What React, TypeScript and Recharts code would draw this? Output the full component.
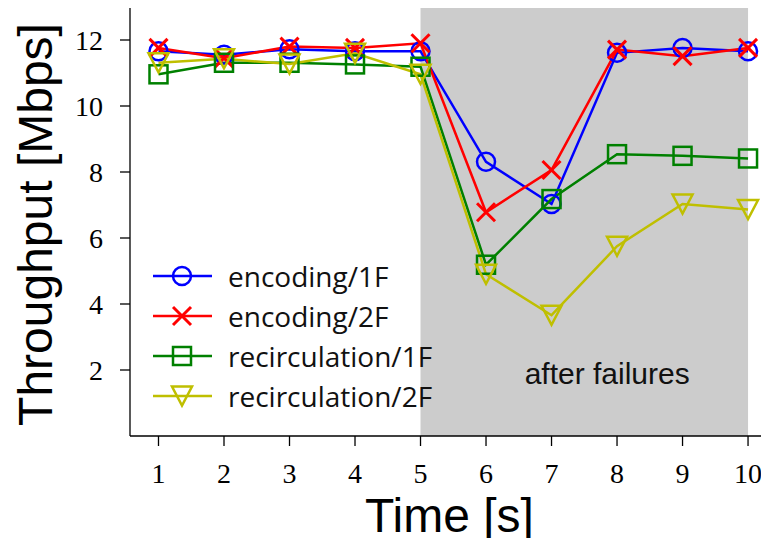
import { LineChart, Line, XAxis, YAxis, ReferenceArea, ReferenceLine } from 'recharts';

const times = [1, 2, 3, 4, 5, 6, 7, 8, 9, 10];
const encoding1F = [11.66, 11.55, 11.72, 11.66, 11.66, 8.31, 7.03, 11.61, 11.76, 11.66];
const encoding2F = [11.76, 11.45, 11.8, 11.76, 11.9, 6.78, 8.06, 11.71, 11.51, 11.76];
const recirculation1F = [10.96, 11.31, 11.31, 11.26, 11.19, 5.19, 7.18, 8.54, 8.49, 8.41];
const recirculation2F = [11.31, 11.43, 11.27, 11.6, 10.96, 4.9, 3.66, 5.75, 7.03, 6.86];
const xTicks = [1, 2, 3, 4, 5, 6, 7, 8, 9, 10];
const yTicks = [2, 4, 6, 8, 10, 12];

const data = times.map((t, i) => ({
  t,
  enc1: encoding1F[i],
  enc2: encoding2F[i],
  rec1: recirculation1F[i],
  rec2: recirculation2F[i],
}));

type Shape = 'circle' | 'x' | 'square' | 'tri';

const series: { key: string; name: string; color: string; shape: Shape }[] = [
  { key: 'enc1', name: 'encoding/1F', color: '#0000ff', shape: 'circle' },
  { key: 'enc2', name: 'encoding/2F', color: '#ff0000', shape: 'x' },
  { key: 'rec1', name: 'recirculation/1F', color: '#008000', shape: 'square' },
  { key: 'rec2', name: 'recirculation/2F', color: '#bfbf00', shape: 'tri' },
];

function Marker({ cx, cy, color, shape }: { cx: number; cy: number; color: string; shape: Shape }) {
  const s = 9;
  const common = { fill: 'none', stroke: color, strokeWidth: 2.5 };
  if (shape === 'circle') return <circle cx={cx} cy={cy} r={s} {...common} />;
  if (shape === 'square') return <rect x={cx - s} y={cy - s} width={2 * s} height={2 * s} {...common} />;
  if (shape === 'tri')
    return <polygon points={`${cx - 10},${cy - 9.5} ${cx + 10},${cy - 9.5} ${cx},${cy + 9.5}`} {...common} />;
  return (
    <g stroke={color} strokeWidth={3}>
      <line x1={cx - s} y1={cy - s} x2={cx + s} y2={cy + s} />
      <line x1={cx - s} y1={cy + s} x2={cx + s} y2={cy - s} />
    </g>
  );
}

const YLabel = ({ viewBox }: any) => {
  const cx = 35;
  const cy = viewBox.y + viewBox.height / 2 + 3;
  return (
    <text
      x={cx}
      y={cy}
      transform={`rotate(-90 ${cx} ${cy})`}
      textAnchor="middle"
      dominantBaseline="central"
      fontFamily="Liberation Sans"
      fontSize={48}
      fill="#000"
    >
      Throughput [Mbps]
    </text>
  );
};

const AreaLabel = ({ viewBox }: any) => (
  <text
    x={viewBox.x + viewBox.width * 0.57}
    y={viewBox.y + viewBox.height - 52}
    textAnchor="middle"
    fontFamily="Liberation Sans"
    fontSize={30}
    fill="#111"
  >
    after failures
  </text>
);

export default function App() {
  return (
    <div style={{ position: 'relative', width: 769, height: 546, margin: -8, background: '#fff' }}>
      <LineChart width={769} height={546} data={data} margin={{ top: 7, right: 0, left: 0, bottom: 0 }}>
        <ReferenceArea x1={5} x2={10} fill="#cccccc" fillOpacity={1} stroke="none" />
        <ReferenceArea x1={5} x2={10} fill="none" fillOpacity={0} stroke="none" label={<AreaLabel />} />
        <ReferenceLine y={13} stroke="#000" strokeWidth={1.3} />
        <XAxis
          dataKey="t"
          type="number"
          domain={[0.565, 10.32]}
          ticks={xTicks}
          allowDataOverflow
          height={110}
          tickSize={10}
          tickMargin={17}
          axisLine={{ stroke: '#000', strokeWidth: 1.3 }}
          tickLine={{ stroke: '#000', strokeWidth: 1.3 }}
          tick={{ fontFamily: 'Liberation Serif', fontSize: 28, fill: '#000' }}
          label={{ value: 'Time [s]', position: 'insideBottom', offset: 14, fontFamily: 'Liberation Sans', fontSize: 48, fill: '#000' }}
        />
        <YAxis
          type="number"
          domain={[0, 13]}
          ticks={yTicks}
          allowDataOverflow
          width={130}
          tickSize={10}
          tickMargin={17}
          axisLine={{ stroke: '#000', strokeWidth: 1.3 }}
          tickLine={{ stroke: '#000', strokeWidth: 1.3 }}
          tick={{ fontFamily: 'Liberation Serif', fontSize: 28, fill: '#000' }}
          label={<YLabel />}
        />
        {series.map((s) => (
          <Line
            key={s.key}
            dataKey={s.key}
            name={s.name}
            stroke={s.color}
            strokeWidth={2.5}
            isAnimationActive={false}
            dot={(p: any) => <Marker key={`${s.key}-${p.index}`} cx={p.cx} cy={p.cy} color={s.color} shape={s.shape} />}
            activeDot={false}
          />
        ))}
      </LineChart>
      <div style={{ position: 'absolute', left: 150, top: 256, fontFamily: 'Open Sans', fontSize: 28, lineHeight: '40px', color: '#111' }}>
        {series.map((s) => (
          <div key={s.key} style={{ display: 'flex', alignItems: 'center', height: 40 }}>
            <svg width={64} height={40} style={{ marginRight: 14 }}>
              <line x1={3} y1={20} x2={62} y2={20} stroke={s.color} strokeWidth={2.5} />
              <Marker cx={32} cy={20} color={s.color} shape={s.shape} />
            </svg>
            <span>{s.name}</span>
          </div>
        ))}
      </div>
    </div>
  );
}
